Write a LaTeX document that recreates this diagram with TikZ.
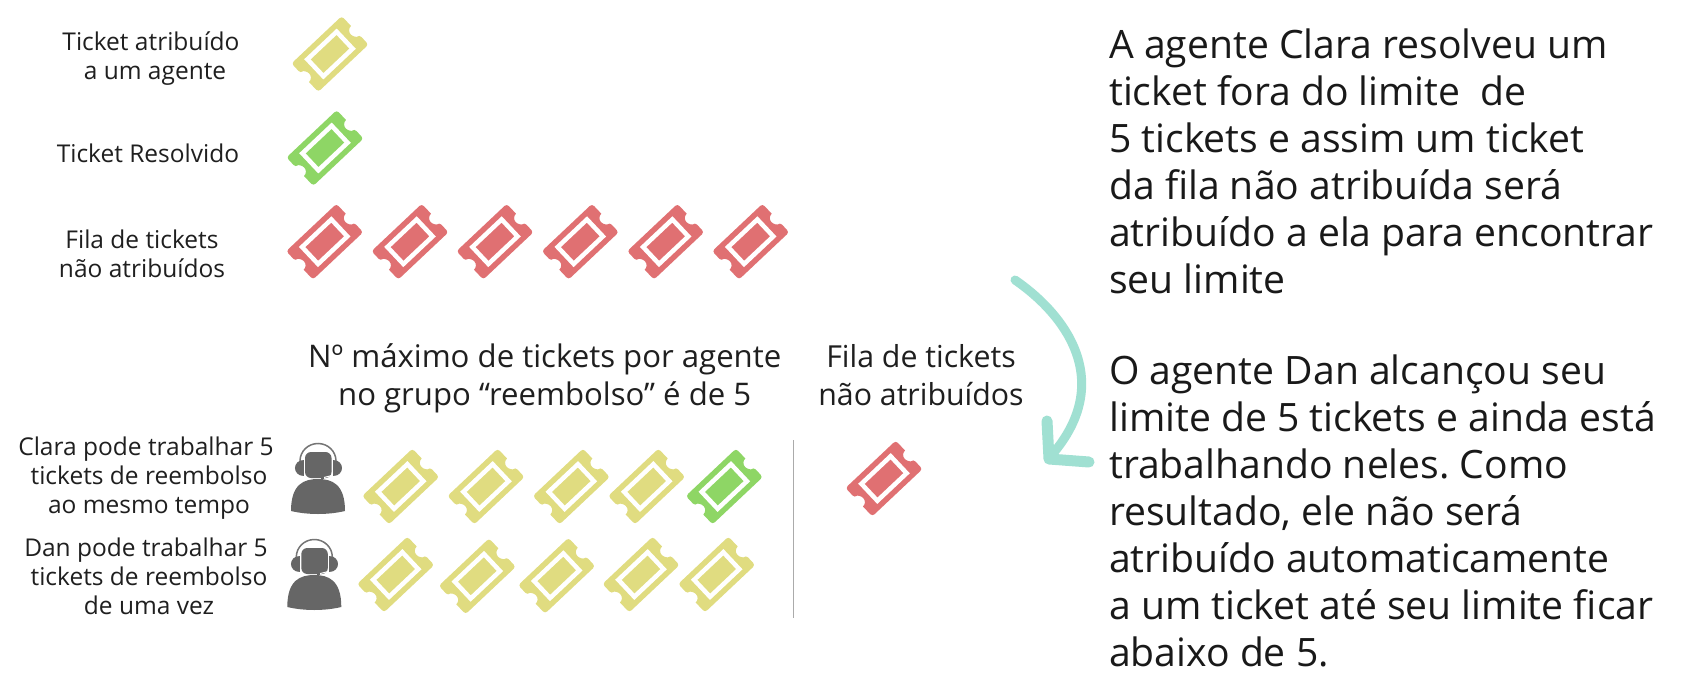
\documentclass[tikz,border=0pt]{standalone}
\usepackage{fontspec}
\setmainfont{Open Sans}
\frenchspacing
\definecolor{tyellow}{HTML}{E0DC80}
\definecolor{tgreen}{HTML}{8ED665}
\definecolor{tred}{HTML}{E07072}
\definecolor{tgray}{HTML}{666666}
\definecolor{tmint}{HTML}{A0E0D2}
\definecolor{tdiv}{HTML}{ABABAB}
\tikzset{
  x=1pt,y=1pt,
  pics/ticket/.style={code={
    \begin{scope}[rotate=43.3]
      \fill[#1,rounded corners=3pt] (-34.5,-19.5) -- (34.5,-19.5) -- (34.5,-6) [sharp corners] arc (270:90:6) [rounded corners=3pt] -- (34.5,19.5) -- (-34.5,19.5) -- (-34.5,6) [sharp corners] arc (90:-90:6) [rounded corners=3pt] -- cycle;
      \draw[white,line width=4.5pt,fill=#1] (-20.1,-11.65) rectangle (20.1,11.65);
    \end{scope}
  }},
  pics/agent/.style={code={
    \fill[tgray] (-27,3) .. controls (-27,30) and (-14,35) .. (0,35) .. controls (14,35) and (27,30) .. (27,3) .. controls (10,-1) and (-10,-1) .. (-27,3) -- cycle;
    \fill[tgray,rounded corners=6pt] (-13,62) rectangle (13.5,36);
    \fill[tgray] (-14,54.5) .. controls (-26,54.5) and (-26,38) .. (-14,38) -- cycle;
    \fill[tgray] (14.5,54.5) .. controls (26.5,54.5) and (26.5,38) .. (14.5,38) -- cycle;
    \draw[tgray!90,line width=1.5pt] (-18,53) arc (180:0:18 and 17.5);
    \draw[white,line width=1pt] (14,38.5) -- (4,36);
    \fill[tgray] (3,37) rectangle (6,35);
  }},
  lbl/.style={font=\fontsize{24.5}{29}\selectfont,align=center,text=black!88,inner sep=0pt,anchor=base},
  mid/.style={font=\fontsize{31.15}{38}\selectfont,align=center,text=black!88,inner sep=0pt,anchor=base},
  midb/.style={font=\fontsize{30.3}{37.5}\selectfont,align=center,text=black!88,inner sep=0pt,anchor=base},
  big/.style={font=\fontsize{39.1}{47}\selectfont,align=left,text=black!90,inner sep=0pt,anchor=base west},
}
\begin{document}
\begin{tikzpicture}
\useasboundingbox[fill=white] (0,0) rectangle (1699,-687);
% legend labels
\node[lbl] (l1) at (151,-80) {Ticket atribuído\\\hspace{8pt}a um agente};
\node[lbl] (l2) at (148,-163) {Ticket Resolvido};
\node[lbl] (l3) at (142,-277) {Fila de tickets\\não atribuídos};
% legend tickets
\pic (ty) at (330,-54) {ticket=tyellow};
\pic (tg) at (325,-148) {ticket=tgreen};
\foreach \i/\x in {1/324.7,2/410,3/495,4/580.3,5/665.7,6/750.7}
  \pic (q\i) at (\x,-241.7) {ticket=tred};
% headings
\node[mid] (h1) at (544.7,-405.5) {Nº máximo de tickets por agente\\no grupo “reembolso” é de 5};
\node[midb] (h2) at (921,-405) {Fila de tickets\\não atribuídos};
% agents
\node[lbl] (c1) at (146,-513) {Clara pode trabalhar 5\\\hspace{6pt}tickets de reembolso\\\hspace{6pt}ao mesmo tempo};
\node[lbl] (d1) at (146,-614) {Dan pode trabalhar 5\\\hspace{6pt}tickets de reembolso\\\hspace{6pt}de uma vez};
\pic (pc) at (318,-514) {agent};
\pic (pd) at (314.3,-610) {agent};
\foreach \i/\x in {1/400.7,2/486,3/571.3,4/646.7}
  \pic (ca\i) at (\x,-486.5) {ticket=tyellow};
\pic (ca5) at (724.3,-486.5) {ticket=tgreen};
\foreach \i/\x/\y in {1/395.7/574.5,2/477.3/576.3,3/556.7/575.7,4/641/574.5,5/716.7/574.5}
  \pic (da\i) at (\x,-\y) {ticket=tyellow};
\coordinate (dt) at (793.3,-440);
\coordinate (db) at (793.3,-618);
\draw[tdiv,line width=1.3pt] (dt) -- (db);
\pic (qr) at (884,-478.5) {ticket=tred};
% arrow
\coordinate (as) at (1015,-280);
\coordinate (ae) at (1050,-457);
\coordinate (a1) at (1047,-421);
\coordinate (a2) at (1089,-462);
\draw[tmint,line width=9pt,line cap=round] (as) .. controls (1070,-318) and (1114,-385) .. (ae);
\draw[tmint,line width=11pt,line cap=round,line join=round] (a1) -- (1049,-459) -- (a2);
% right text
\node[big] (t1) at (1109,-293) {A agente Clara resolveu um\\ticket fora do limite\ \ de\\5 tickets e assim um ticket\\da fila não atribuída será\\atribuído a ela para encontrar\\seu limite};
\node[big] (t2) at (1109,-666) {O agente Dan alcançou seu\\limite de 5 tickets e ainda está\\trabalhando neles. Como\\resultado, ele não será\\atribuído automaticamente\\a um ticket até seu limite ficar\\abaixo de 5.};
\end{tikzpicture}
\end{document}
